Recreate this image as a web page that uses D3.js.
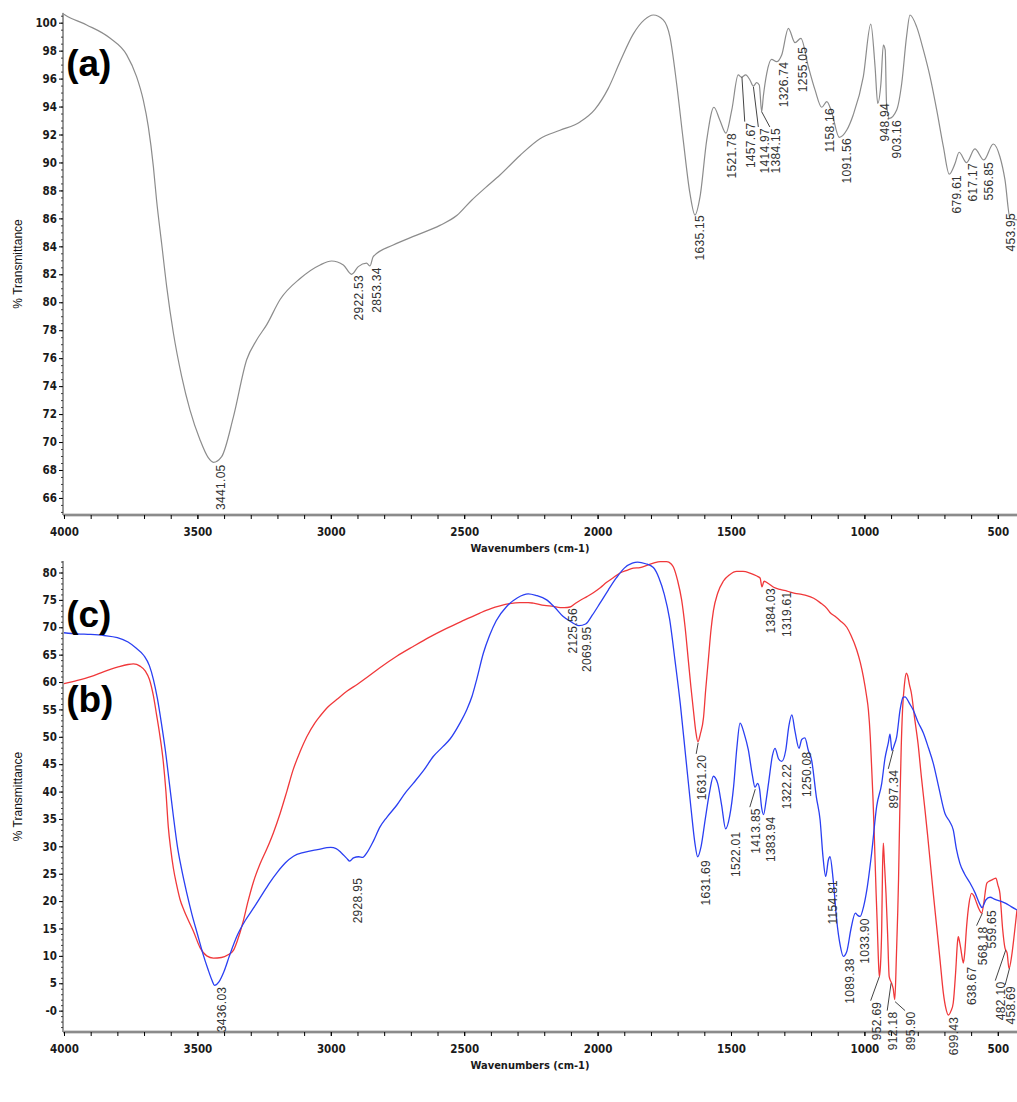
<!DOCTYPE html>
<html>
<head>
<meta charset="utf-8">
<script src="https://cdn.jsdelivr.net/npm/d3@7"></script>
<style>
  body { margin: 0; background: #fff; }
  svg { display: block; }
  .tick text { font-family: "Liberation Sans Narrow", "DejaVu Sans Condensed", "Arial Narrow", sans-serif; font-weight: bold; font-size: 11.5px; fill: #1a1a1a; }
  .peak { font-family: "Liberation Sans", Arial, sans-serif; font-size: 12px; letter-spacing: 0.3px; fill: #333; }
</style>
</head>
<body>
<div id="chart"></div>
<script>
// spectrum (a) - grey, top panel  [wavenumber, %T]
const specA = [
  [4000, 100.6], [3996, 100.55], [3915, 99.84], [3828, 98.9], [3765, 97.7], [3728, 96.14], [3703, 94.47],
  [3684, 92.56], [3665, 89.7], [3653, 87.3], [3634, 84.2], [3615, 81.1], [3590, 77.8], [3559, 74.7],
  [3528, 72.3], [3490, 70.15], [3460, 68.9], [3440, 68.55], [3409, 68.96], [3365, 71.8], [3315, 75.9],
  [3278, 77.3], [3240, 78.4], [3190, 80.2], [3115, 81.7], [3040, 82.67], [2997, 82.95], [2953, 82.67],
  [2922, 82.0], [2897, 82.55], [2866, 82.8], [2853, 82.6], [2841, 83.26], [2766, 84.1], [2678, 84.8],
  [2591, 85.5], [2528, 86.2], [2472, 87.3], [2420, 88.2], [2366, 89.1], [2291, 90.5], [2216, 91.7],
  [2141, 92.3], [2066, 92.9], [2010, 93.8], [1960, 95.3], [1916, 97.2], [1866, 99.2], [1825, 100.2],
  [1791, 100.55], [1754, 100.2], [1729, 99.0], [1704, 95.67], [1679, 91.6], [1654, 87.8], [1635, 86.24],
  [1616, 87.55], [1591, 91.6], [1564, 93.95], [1542, 93.04], [1519, 92.1], [1497, 93.76], [1473, 96.26],
  [1460, 96.1], [1445, 96.26], [1429, 95.9], [1416, 95.47], [1404, 95.71], [1394, 95.54], [1385, 93.63],
  [1379, 94.7], [1366, 96.38], [1348, 97.38], [1329, 97.21], [1310, 97.69], [1285, 99.6], [1260, 98.57],
  [1238, 98.88], [1210, 96.85], [1185, 95.19], [1160, 93.95], [1141, 94.35], [1125, 93.76], [1094, 91.8],
  [1066, 92.32], [1042, 93.4], [1004, 96.14], [976, 99.9], [960, 96.85], [950, 94.23], [938, 95.67],
  [929, 98.4], [922, 98.05], [917, 94.23], [907, 93.16], [879, 93.76], [860, 95.67], [842, 99.0],
  [829, 100.55], [804, 99.7], [779, 98.05], [754, 96.14], [729, 93.76], [704, 91.13], [682, 89.16],
  [660, 89.94], [645, 90.73], [617, 89.99], [586, 90.97], [552, 90.18], [517, 91.32], [492, 90.41],
  [473, 88.75], [454, 86.01], [428, 85.89]
];

// spectrum (b) - blue, bottom panel
const specB = [
  [4000, 69.0], [3950, 68.8], [3900, 68.7], [3850, 68.5], [3800, 68.1], [3760, 67.3], [3730, 66.2],
  [3700, 64.8], [3680, 63.0], [3665, 60.5], [3650, 57.0], [3635, 52.5], [3620, 47.5], [3605, 41.5],
  [3590, 35.5], [3575, 30.0], [3560, 26.0], [3540, 21.5], [3520, 17.5], [3500, 14.0], [3480, 10.5],
  [3460, 7.5], [3445, 5.5], [3436, 4.6], [3420, 5.2], [3400, 7.2], [3380, 10.0], [3350, 13.8],
  [3320, 16.5], [3290, 18.7], [3260, 21.0], [3230, 23.3], [3200, 25.3], [3170, 27.0], [3140, 28.2],
  [3100, 28.9], [3050, 29.4], [3000, 29.8], [2980, 29.6], [2960, 28.8], [2940, 27.8], [2929, 27.3],
  [2915, 27.9], [2895, 28.1], [2880, 28.0], [2865, 28.8], [2840, 31.0], [2816, 33.5], [2790, 35.3],
  [2753, 37.5], [2720, 39.8], [2691, 41.5], [2650, 44.0], [2616, 46.4], [2580, 48.2], [2553, 49.6],
  [2516, 52.5], [2490, 55.0], [2470, 57.5], [2453, 60.5], [2428, 65.3], [2405, 68.5], [2380, 71.2],
  [2341, 73.8], [2300, 75.4], [2260, 76.1], [2230, 75.8], [2191, 75.0], [2160, 73.6], [2130, 72.0],
  [2100, 71.0], [2070, 70.3], [2045, 70.6], [2020, 72.2], [1991, 74.4], [1960, 76.8], [1930, 79.0],
  [1900, 80.8], [1870, 81.7], [1850, 81.9], [1820, 81.6], [1791, 80.9], [1770, 79.0], [1750, 76.0],
  [1730, 71.5], [1710, 64.0], [1690, 56.0], [1670, 46.5], [1650, 37.0], [1635, 30.5], [1625, 28.1],
  [1612, 30.0], [1597, 34.8], [1580, 40.0], [1566, 42.8], [1550, 41.5], [1535, 37.5], [1520, 33.2],
  [1505, 35.5], [1490, 41.0], [1478, 48.0], [1466, 52.5], [1450, 50.5], [1435, 47.6], [1420, 43.0],
  [1410, 40.8], [1400, 41.5], [1393, 40.5], [1385, 37.0], [1378, 35.8], [1368, 38.5], [1358, 42.0],
  [1345, 46.5], [1335, 47.9], [1322, 46.0], [1310, 45.5], [1295, 47.5], [1283, 52.0], [1272, 54.0],
  [1260, 51.0], [1245, 47.9], [1235, 49.5], [1223, 49.8], [1210, 47.5], [1198, 45.8], [1180, 39.0],
  [1166, 34.8], [1155, 28.0], [1145, 24.5], [1135, 27.5], [1129, 28.1], [1117, 23.9], [1104, 16.6],
  [1091, 12.0], [1079, 9.9], [1066, 10.8], [1050, 15.0], [1034, 17.8], [1025, 17.4], [1016, 17.2],
  [1003, 19.0], [991, 22.0], [973, 28.7], [954, 37.3], [935, 41.5], [923, 46.0], [910, 49.0],
  [904, 50.5], [897, 47.5], [888, 48.5], [879, 50.0], [866, 55.0], [855, 57.2], [848, 57.3],
  [830, 56.0], [817, 54.9], [800, 52.8], [779, 50.7], [760, 48.0], [742, 45.2], [720, 40.5],
  [698, 36.0], [680, 34.5], [667, 33.0], [655, 29.5], [642, 26.9], [625, 25.0], [604, 23.3],
  [585, 21.5], [568, 19.5], [559, 18.8], [545, 20.2], [529, 20.7], [510, 20.3], [490, 20.0],
  [470, 19.6], [450, 19.0], [428, 18.4]
];

// spectrum (c) - red, bottom panel
const specC = [
  [4000, 59.7], [3950, 60.3], [3900, 61.0], [3850, 61.9], [3800, 62.7], [3760, 63.2], [3740, 63.3],
  [3715, 62.9], [3695, 62.0], [3680, 60.5], [3665, 57.5], [3653, 54.0], [3640, 50.0], [3628, 45.5],
  [3618, 40.0], [3609, 33.5], [3600, 29.5], [3590, 26.0], [3578, 23.0], [3565, 20.3], [3550, 18.3],
  [3534, 16.5], [3515, 14.5], [3490, 11.5], [3465, 10.0], [3440, 9.6], [3410, 9.7], [3385, 10.2],
  [3365, 11.0], [3350, 12.8], [3330, 16.0], [3310, 20.0], [3290, 23.5], [3265, 26.8], [3240, 29.5],
  [3215, 32.5], [3190, 36.0], [3165, 40.0], [3141, 44.0], [3115, 47.3], [3090, 50.0],
  [3060, 52.5], [3040, 53.8], [3010, 55.5], [2978, 56.8], [2940, 58.3], [2900, 59.6], [2860, 61.0],
  [2816, 62.6], [2753, 64.7], [2691, 66.5], [2630, 68.2], [2566, 69.8], [2500, 71.3], [2441, 72.6],
  [2400, 73.4], [2366, 73.9], [2330, 74.3], [2291, 74.5], [2260, 74.5], [2241, 74.4], [2200, 74.0],
  [2166, 73.8], [2140, 73.6], [2125, 73.6], [2103, 73.7], [2085, 74.3], [2066, 74.9], [2040, 75.6],
  [2016, 76.3], [1990, 77.2], [1966, 78.2], [1940, 79.1], [1916, 79.9], [1890, 80.4], [1866, 80.8],
  [1841, 80.9], [1815, 81.3], [1791, 81.7], [1765, 82.0], [1741, 82.0], [1725, 81.6], [1716, 81.0],
  [1700, 78.5], [1685, 75.0], [1672, 70.0], [1660, 64.0], [1650, 59.0], [1641, 54.9], [1632, 51.0],
  [1624, 49.1], [1615, 50.5], [1603, 53.5], [1595, 58.5], [1585, 64.0], [1575, 69.5], [1566, 73.0],
  [1550, 76.2], [1529, 78.4], [1505, 79.6], [1479, 80.2], [1455, 80.2], [1429, 79.9], [1405, 79.4],
  [1391, 79.0], [1384, 77.4], [1376, 78.4], [1360, 78.0], [1340, 77.3], [1316, 76.9], [1290, 76.6],
  [1260, 76.2], [1235, 76.0], [1216, 75.8], [1190, 75.3], [1166, 74.5], [1140, 73.4], [1129, 72.7],
  [1110, 72.0], [1091, 71.2], [1066, 70.0], [1050, 68.5], [1029, 65.9], [1015, 63.5], [1004, 61.0],
  [992, 57.5], [985, 54.9], [978, 50.0], [973, 44.6], [968, 39.0], [964, 33.6], [960, 27.5],
  [956, 21.4], [952, 16.0], [948, 10.0], [944, 6.2], [940, 8.0], [935, 15.3], [932, 26.0],
  [929, 30.6], [925, 27.0], [919, 21.4], [913, 14.0], [907, 6.2], [898, 5.0], [892, 4.0],
  [886, 2.0], [880, 10.0], [875, 18.0], [872, 24.0], [869, 32.0], [866, 39.7], [862, 48.0],
  [857, 54.9], [850, 59.5], [843, 61.6], [838, 61.2], [831, 59.5], [824, 58.0], [812, 53.5],
  [799, 48.8], [786, 42.5], [773, 36.7], [763, 32.0], [754, 27.5], [742, 21.5], [729, 15.3],
  [716, 9.0], [704, 3.2], [695, 0.5], [685, -0.8], [675, 0.0], [667, 1.4], [658, 7.0],
  [651, 12.5], [648, 13.5], [643, 12.5], [639, 11.4], [633, 9.5], [629, 8.7], [624, 10.5],
  [617, 15.3], [608, 19.5], [598, 21.4], [590, 21.0], [579, 19.6], [570, 18.5], [560, 17.8],
  [553, 19.5], [541, 23.3], [530, 23.7], [517, 24.0], [507, 24.2], [500, 23.0], [492, 21.4],
  [482, 15.0], [473, 11.4], [465, 10.5], [458, 7.7], [448, 10.0], [438, 14.0], [428, 18.4]
];

// peak labels: [text, label wn, label %T, peak wn, peak %T] (peak only when a leader line is drawn)
const peaksA = [
  ["3441.05", 3412, 68.4], ["2922.53", 2894, 81.95], ["2853.34", 2828, 82.5],
  ["1635.15", 1616, 86.24], ["1521.78", 1497, 92.11],
  ["1457.67", 1426, 92.85, 1459, 96.12], ["1414.97", 1375, 92.47, 1416, 95.42],
  ["1384.15", 1332, 92.47, 1385, 93.63],
  ["1326.74", 1301, 97.21], ["1255.05", 1231, 98.28], ["1158.16", 1129, 93.9],
  ["1091.56", 1066, 91.75], ["948.94", 923, 94.26], ["903.16", 879, 93.04],
  ["679.61", 654, 89.11], ["617.17", 592, 89.96], ["556.85", 532, 90.04], ["453.95", 450, 86.39]
];
const peaksBC = [
  ["3436.03", 3409, 4.38], ["2928.95", 2898, 24.24], ["2125.56", 2093, 73.5], ["2069.95", 2039, 70.14],
  ["1631.20", 1608, 46.7, 1623, 48.9], ["1384.03", 1350, 77.15], ["1319.61", 1289, 76.53],
  ["1631.69", 1595, 27.52], ["1522.01", 1482, 32.7], ["1413.85", 1407, 36.97, 1409, 40.44],
  ["1383.94", 1351, 35.43], ["1322.22", 1289, 45.06], ["1250.08", 1216, 47.31],
  ["1154.81", 1119, 23.87], ["1089.38", 1054, 9.57], ["1033.90", 1000, 16.88],
  ["952.69", 954, 1.64, 944, 6.21], ["912.18", 892, -0.18, 900, 5.0], ["895.90", 825, -0.18, 885, 1.64],
  ["897.34", 888, 43.96, 892, 47.6], ["699.43", 664, -1.1], ["638.67", 598, 8.04],
  ["568.18", 557, 15.34, 558, 17.79], ["559.65", 523, 18.39],
  ["482.10", 487, 5.3, 470, 11.09], ["458.69", 450, 4.5, 456, 7.74]
];

const xTicks = [4000, 3500, 3000, 2500, 2000, 1500, 1000, 500];
const yTicksA = d3.range(66, 101, 2);
const yTicksBC = d3.range(0, 81, 5);
const panelLabels = [["(a)", 3992, 96.2, "top"], ["(c)", 3992, 70.1, "bot"], ["(b)", 3992, 54.6, "bot"]];

const width = 1017, height = 1102;
const svg = d3.select("#chart").append("svg")
  .attr("width", width).attr("height", height)
  .attr("viewBox", [0, 0, width, height]);

const x = d3.scaleLinear().domain([4000, 428]).range([64, 1017]);
const yTop = d3.scaleLinear().domain([64.78, 100.7]).range([515, 12.9]);
const yBot = d3.scaleLinear().domain([-3.9, 82.1]).range([1032, 561]);

function drawAxes(y, yMajor, yMinorStep, yFormat) {
  const [y0, y1] = y.domain();
  const bottom = y.range()[0];

  // y axis
  const gy = svg.append("g").attr("transform", `translate(63,0)`);
  gy.call(d3.axisLeft(y).tickValues(d3.range(Math.ceil(y0), y1, yMinorStep)).tickSize(2).tickFormat(""))
    .call(g => g.select(".domain").remove())
    .call(g => g.selectAll("line").attr("stroke", "#444"));
  gy.append("g")
    .call(d3.axisLeft(y).tickValues(yMajor).tickSize(4).tickPadding(2).tickFormat(yFormat))
    .call(g => g.select(".domain").remove());
  gy.append("line").attr("y1", y.range()[1]).attr("y2", bottom).attr("stroke", "#333");

  // x axis
  const gx = svg.append("g").attr("transform", `translate(0,${bottom})`);
  gx.append("line").attr("x1", 63).attr("x2", width).attr("stroke", "#b0b0b0").attr("stroke-width", 3);
  gx.append("line").attr("x1", 63).attr("x2", width).attr("stroke", "#555").attr("stroke-width", 0.8);
  gx.append("g")
    .call(d3.axisBottom(x).tickValues(d3.range(4000, 428, -100)).tickSize(4).tickFormat(""))
    .call(g => g.select(".domain").remove());
  gx.append("g")
    .call(d3.axisBottom(x).tickValues(xTicks).tickSize(4).tickPadding(9).tickFormat(d3.format("d")))
    .call(g => g.select(".domain").remove());

  svg.append("text")
    .attr("x", 530).attr("y", bottom + 37)
    .attr("text-anchor", "middle")
    .attr("font-family", "'Liberation Sans Narrow', 'DejaVu Sans Condensed', sans-serif")
    .attr("font-size", 11).attr("font-weight", "bold").attr("fill", "#1a1a1a")
    .text("Wavenumbers (cm-1)");

  const cy = (y.range()[0] + y.range()[1]) / 2;
  svg.append("text")
    .attr("transform", `translate(22,${cy}) rotate(-90)`)
    .attr("text-anchor", "middle")
    .attr("font-family", "'Liberation Sans', Arial, sans-serif")
    .attr("font-size", 12).attr("fill", "#111")
    .text("% Transmittance");
}

drawAxes(yTop, yTicksA, 0.5, d3.format("d"));
drawAxes(yBot, yTicksBC, 1, d => d === 0 ? "-0" : String(d));

function drawLine(data, y, color, w) {
  svg.append("path")
    .datum(data)
    .attr("fill", "none")
    .attr("stroke", color)
    .attr("stroke-width", w)
    .attr("stroke-linejoin", "round")
    .attr("d", d3.line().x(d => x(d[0])).y(d => y(d[1])).curve(d3.curveMonotoneX));
}

drawLine(specA, yTop, "#8c8c8c", 1.2);
drawLine(specC, yBot, "#f0383a", 1.3);
drawLine(specB, yBot, "#2a3ff2", 1.3);

function drawPeaks(peaks, y) {
  const g = svg.append("g");
  g.selectAll("line")
    .data(peaks.filter(p => p.length > 3))
    .join("line")
    .attr("x1", d => x(d[3])).attr("y1", d => y(d[4]))
    .attr("x2", d => x(d[1]) - 6).attr("y2", d => y(d[2]) - 1)
    .attr("stroke", "#444").attr("stroke-width", 1);
  g.selectAll("text")
    .data(peaks)
    .join("text")
    .attr("class", "peak")
    .attr("transform", d => `translate(${x(d[1])},${y(d[2])}) rotate(-90)`)
    .attr("text-anchor", "end")
    .attr("dy", "0.35em")
    .text(d => d[0]);
}

drawPeaks(peaksA, yTop);
drawPeaks(peaksBC, yBot);

svg.append("g")
  .selectAll("text")
  .data(panelLabels)
  .join("text")
  .attr("x", d => x(d[1]))
  .attr("y", d => (d[3] === "top" ? yTop : yBot)(d[2]))
  .attr("font-family", "'Liberation Sans', Arial, sans-serif")
  .attr("font-weight", "bold")
  .attr("font-size", 37)
  .attr("fill", "#000")
  .text(d => d[0]);
</script>
</body>
</html>
